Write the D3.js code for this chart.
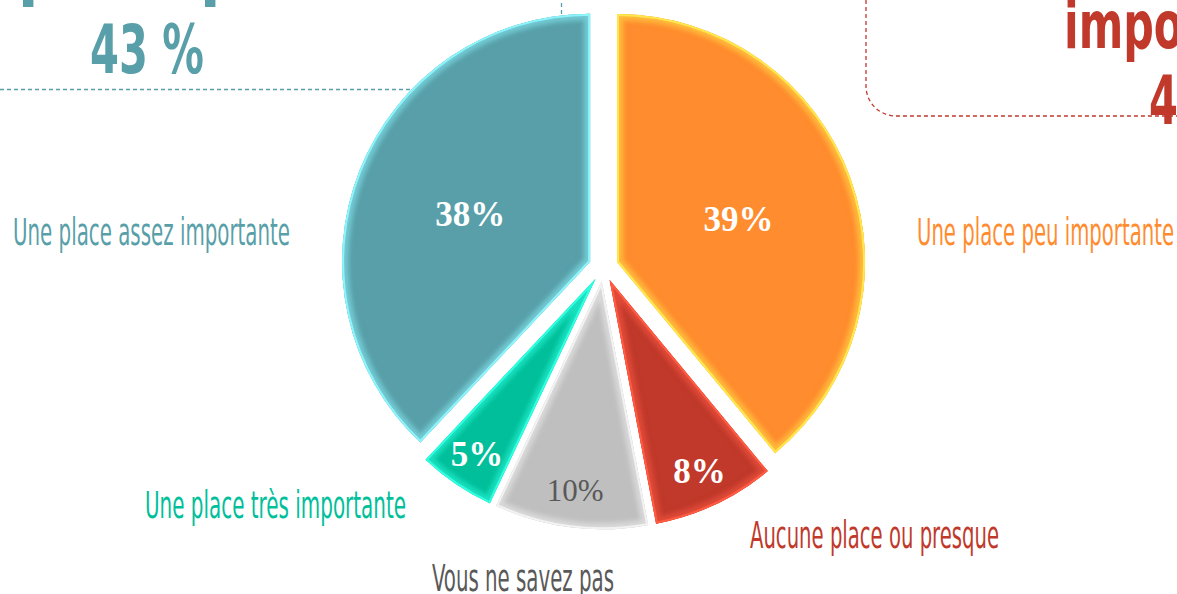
<!DOCTYPE html>
<html>
<head>
<meta charset="utf-8">
<script src="https://cdn.jsdelivr.net/npm/d3@7"></script>
<style>
  body { margin: 0; background: #fff; }
  svg { display: block; }
</style>
</head>
<body>
<svg id="chart" width="1177" height="594"></svg>
<script>
// slice data, clockwise from 12 o'clock
const categories = ["Une place peu importante", "Aucune place ou presque", "Vous ne savez pas", "Une place très importante", "Une place assez importante"];
const values = [39, 8, 10, 5, 38];
const sliceColors = ["#ff8c2e", "#c0392b", "#bfbfbf", "#00bf9a", "#589fa9"];
const rimColors = ["#ffe84d", "#ff5a42", "#f2f2f2", "#30ffe2", "#8ef4fc"];
const textColors = ["#ff8c2e", "#c0392b", "#595959", "#00bf9a", "#589fa9"];
const valueLabelColors = ["#ffffff", "#ffffff", "#595959", "#ffffff", "#ffffff"];

// the two totals in the corner boxes
const leftTotal = "43 %";
const rightTitle = "importante";
const rightTotal = "47 %";

const svg = d3.select("#chart");
const W = 1177, H = 594;
const cx = 603.5, cy = 267, radius = 248, explode = 14.4;

// placement of the category names (manually placed in the original)
const catLabelPos = [
  { x: 917, y: 245, w: 257 },
  { x: 750, y: 548, w: 249 },
  { x: 432, y: 591, w: 182 },
  { x: 145, y: 518, w: 261 },
  { x: 13, y: 245, w: 277 }
];

const condensed = "'Liberation Sans Narrow', 'DejaVu Sans Condensed', 'Roboto', sans-serif";
const serif = "'Liberation Serif', 'DejaVu Serif', serif";

const defs = svg.append("defs");
defs.append("filter").attr("id", "soft")
  .attr("x", "-10%").attr("y", "-10%").attr("width", "120%").attr("height", "120%")
  .append("feGaussianBlur").attr("stdDeviation", 2);

// --- corner boxes (behind the pie) ---
svg.append("path")
  .attr("d", "M0,89.5 H561.5 V0")
  .attr("fill", "none")
  .attr("stroke", "#589fa9")
  .attr("stroke-width", 1.3)
  .attr("stroke-dasharray", "4,3");

svg.append("path")
  .attr("d", "M866,0 V86 A30,30 0 0 0 896,116 H" + W)
  .attr("fill", "none")
  .attr("stroke", "#c0392b")
  .attr("stroke-width", 1.3)
  .attr("stroke-dasharray", "4,3");

// descenders of the cut-off left title line
const cut = svg.append("text")
  .attr("font-family", condensed)
  .attr("font-weight", "bold")
  .attr("font-size", 66)
  .attr("fill", "#589fa9")
  .attr("y", -7);
cut.append("tspan").attr("x", 18).text("p");
cut.append("tspan").attr("x", 200).text("p");

svg.append("text")
  .attr("transform", "translate(90,73) scale(0.68,1)")
  .attr("font-family", condensed)
  .attr("font-weight", "bold")
  .attr("font-size", 68)
  .attr("fill", "#589fa9")
  .text(leftTotal);

svg.append("text")
  .attr("transform", "translate(1064,48) scale(0.72,1)")
  .attr("font-family", condensed)
  .attr("font-weight", "bold")
  .attr("font-size", 66)
  .attr("fill", "#c0392b")
  .text(rightTitle);

svg.append("text")
  .attr("transform", "translate(1149,124) scale(0.68,1)")
  .attr("font-family", condensed)
  .attr("font-weight", "bold")
  .attr("font-size", 68)
  .attr("fill", "#c0392b")
  .text(rightTotal);

// --- pie ---
const pie = d3.pie().sort(null).startAngle(0).endAngle(2 * Math.PI);
const arcs = pie(values);
const arc = d3.arc().innerRadius(0).outerRadius(radius);

arcs.forEach((d, i) => {
  const mid = (d.startAngle + d.endAngle) / 2;
  const ox = cx + explode * Math.sin(mid), oy = cy - explode * Math.cos(mid);
  const p = arc(d);

  defs.append("clipPath").attr("id", "clip" + i)
    .append("path").attr("d", p).attr("transform", `translate(${ox},${oy})`);

  svg.append("path")
    .attr("transform", `translate(${ox},${oy})`)
    .attr("d", p)
    .attr("fill", sliceColors[i]);

  // bevel-like bright rim, clipped inside the slice
  const rimG = svg.append("g").attr("clip-path", `url(#clip${i})`);
  rimG.append("path")
    .attr("transform", `translate(${ox},${oy})`)
    .attr("d", p)
    .attr("fill", "none")
    .attr("stroke", rimColors[i])
    .attr("stroke-width", 12)
    .attr("filter", "url(#soft)");
  rimG.append("path")
    .attr("transform", `translate(${ox},${oy})`)
    .attr("d", p)
    .attr("fill", "none")
    .attr("stroke", sliceColors[i])
    .attr("stroke-opacity", 0.5)
    .attr("stroke-width", 18)
    .attr("filter", "url(#soft)");
  rimG.append("path")
    .attr("transform", `translate(${ox},${oy})`)
    .attr("d", p)
    .attr("fill", "none")
    .attr("stroke", rimColors[i])
    .attr("stroke-width", 4);
});

// value labels
arcs.forEach((d, i) => {
  const mid = (d.startAngle + d.endAngle) / 2;
  const frac = (d.endAngle - d.startAngle) < 0.7 ? 0.85 : 0.52;
  const r = explode + radius * frac;
  const x = cx + r * Math.sin(mid);
  const y = cy - r * Math.cos(mid);
  svg.append("text")
    .attr("x", x).attr("y", y)
    .attr("dy", "0.35em")
    .attr("text-anchor", "middle")
    .attr("font-family", serif)
    .attr("font-weight", i === 2 ? "normal" : "bold")
    .attr("font-size", i === 2 ? 31 : 35)
    .attr("fill", valueLabelColors[i])
    .text(values[i] + "%");
});

// category names
categories.forEach((c, i) => {
  const pos = catLabelPos[i];
  svg.append("text")
    .attr("x", pos.x).attr("y", pos.y)
    .attr("font-family", condensed)
    .attr("font-size", 37)
    .attr("textLength", pos.w)
    .attr("lengthAdjust", "spacingAndGlyphs")
    .attr("fill", textColors[i])
    .text(c);
});
</script>
</body>
</html>
